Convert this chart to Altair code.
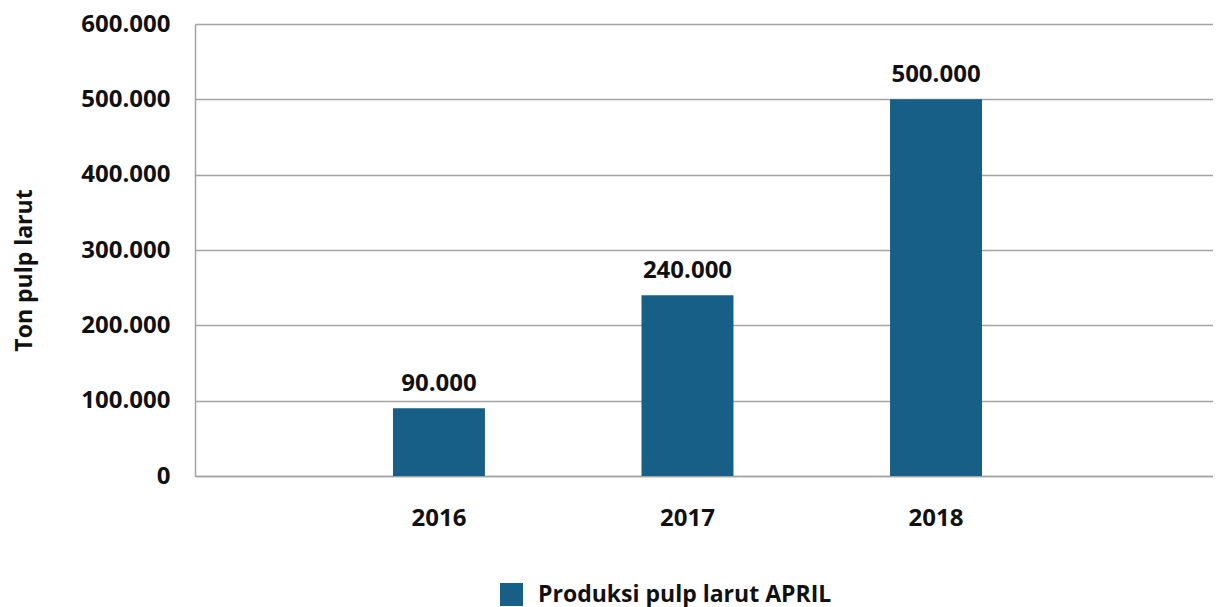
import altair as alt
import pandas as pd

years = ["2016", "2017", "2018"]
values = [90000, 240000, 500000]
series_name = "Produksi pulp larut APRIL"
y_ticks = [0, 100000, 200000, 300000, 400000, 500000, 600000]

df = pd.DataFrame({"year": years, "value": values, "series": [series_name] * len(years)})

BAR = "#175f87"
GRID = "#a3a3a3"
FONT = "Open Sans"

fmt = "replace(format(datum.value, ','), ',', '.')"

x_enc = alt.X(
    "year:N",
    sort=years,
    scale=alt.Scale(paddingInner=0.63, paddingOuter=0.863, align=0.4615),
    axis=alt.Axis(
        title=None, labelAngle=0, ticks=False, labelPadding=30,
        labelFontSize=24, labelFontWeight="bold", labelColor="#111111",
        domainColor=GRID, domainWidth=1.5, grid=False, labelFont=FONT,
    ),
)

y_enc = alt.Y(
    "value:Q",
    scale=alt.Scale(domain=[0, 600000], nice=False),
    axis=alt.Axis(
        title="Ton pulp larut", values=y_ticks, labelExpr=fmt, ticks=False,
        labelPadding=25, labelFontSize=24, labelFontWeight="bold", labelColor="#111111",
        labelFont=FONT, titleFont=FONT, titleFontSize=23, titleFontWeight="bold",
        titleColor="#111111", titlePadding=44, titleY=246, domainColor=GRID, domainWidth=1.5,
        grid=True, gridColor=GRID, gridWidth=1.5,
    ),
)

base = alt.Chart(df).encode(x=x_enc)

bars = base.mark_bar().encode(
    y=y_enc,
    color=alt.Color(
        "series:N",
        scale=alt.Scale(range=[BAR]),
        legend=alt.Legend(
            title=None, orient="none", legendX=305, legendY=559, padding=0,
            symbolType="square", symbolSize=529, symbolStrokeWidth=0,
            symbolOpacity=1, labelFontSize=23, labelFontWeight="bold",
            labelColor="#111111", labelFont=FONT, labelOffset=15, labelLimit=600,
        ),
    ),
)

text = base.transform_calculate(label=fmt).mark_text(
    dy=-17, baseline="alphabetic", fontSize=24, fontWeight="bold",
    color="#111111", font=FONT,
).encode(y="value:Q", text="label:N")

chart = alt.layer(bars, text).properties(
    width=1018, height=452,
    autosize=alt.AutoSizeParams(type="none"),
    padding={"left": 187, "top": 16, "right": 0, "bottom": 131},
).configure_view(stroke=None).configure(font=FONT)

chart.save("out.html", embed_options={"renderer": "svg", "actions": False})
